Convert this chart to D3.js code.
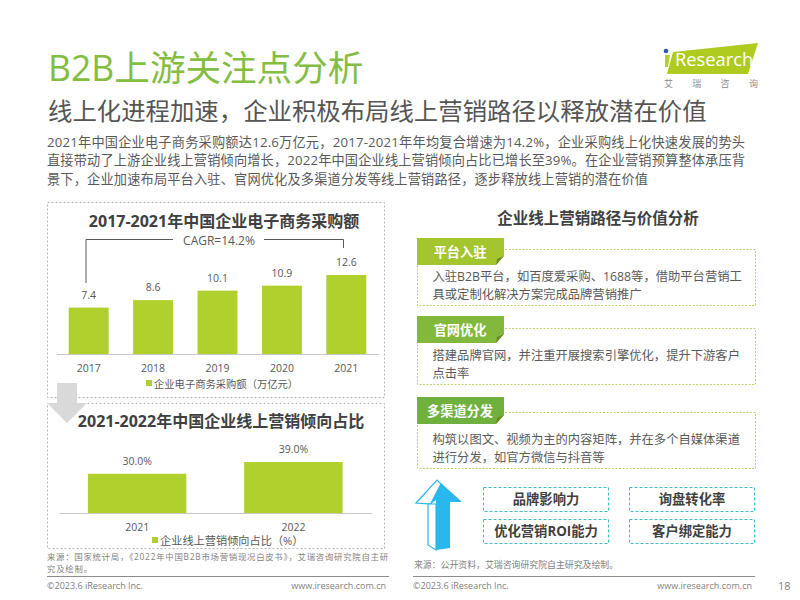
<!DOCTYPE html>
<html>
<head>
<meta charset="utf-8">
<script src="https://cdn.jsdelivr.net/npm/d3@7"></script>
<style>
  html, body { margin: 0; padding: 0; background: #fff; }
  svg text { font-family: "Open Sans", "Noto Sans CJK SC", sans-serif; }
</style>
</head>
<body>
<div id="chart"></div>
<script>
// chart data
var purchaseYears = ["2017", "2018", "2019", "2020", "2021"];
var purchaseValues = [7.4, 8.6, 10.1, 10.9, 12.6];
var shareYears = ["2021", "2022"];
var shareValues = [30.0, 39.0];

// page text
var bodyLines = [
  "2021年中国企业电子商务采购额达12.6万亿元，2017-2021年年均复合增速为14.2%，企业采购线上化快速发展的势头",
  "直接带动了上游企业线上营销倾向增长，2022年中国企业线上营销倾向占比已增长至39%。在企业营销预算整体承压背",
  "景下，企业加速布局平台入驻、官网优化及多渠道分发等线上营销路径，逐步释放线上营销的潜在价值"
];
var bodyWidths = [698, 698, 601];
var routeTabs = ["平台入驻", "官网优化", "多渠道分发"];
var routeLines = [
  ["入驻B2B平台，如百度爱采购、1688等，借助平台营销工", "具或定制化解决方案完成品牌营销推广"],
  ["搭建品牌官网，并注重开展搜索引擎优化，提升下游客户", "点击率"],
  ["构筑以图文、视频为主的内容矩阵，并在多个自媒体渠道", "进行分发，如官方微信与抖音等"]
];
var valueLabels = ["品牌影响力", "询盘转化率", "优化营销ROI能力", "客户绑定能力"];
var sourceLines = ["来源：国家统计局，《2022年中国B2B市场营销现况白皮书》，艾瑞咨询研究院自主研", "究及绘制。"];
var sourceWidths = [341, 45];

var green = "#b0d02e";
var svg = d3.select("#chart").append("svg")
  .attr("width", 800).attr("height", 600)
  .style("display", "block");

function addText(x, y, str, size, color, weight, anchor) {
  return svg.append("text")
    .attr("x", x).attr("y", y)
    .attr("font-size", size)
    .attr("fill", color)
    .attr("font-weight", weight || "normal")
    .attr("text-anchor", anchor || "start")
    .text(str);
}

function dashedBox(x, y, w, h, color, dash) {
  svg.append("rect")
    .attr("x", x).attr("y", y).attr("width", w).attr("height", h)
    .attr("fill", "none").attr("stroke", color)
    .attr("stroke-width", 1).attr("stroke-dasharray", dash);
}

function poly(points, fill) {
  return svg.append("polygon").attr("points", points).attr("fill", fill);
}

// header
addText(48, 81, "B2B上游关注点分析", 35.6, "#84bd42");
addText(48, 120, "线上化进程加速，企业积极布局线上营销路径以释放潜在价值", 24.4, "#555");
bodyLines.forEach(function(line, i) {
  addText(47, 146.5 + i * 18.7, line, 13.2, "#595959")
    .attr("textLength", bodyWidths[i])
    .attr("lengthAdjust", "spacing");
});

// logo
poly("673,52 758,43 748,74 667,74", "#afcb1f");
poly("665,55 670,55 668,67 665,67", "#b6d12a");
svg.append("circle").attr("cx", 666).attr("cy", 51).attr("r", 2.3).attr("fill", "#2f5aa8");
addText(675, 66, "Research", 18.3, "#fff");
["艾", "瑞", "咨", "询"].forEach(function(c, i) {
  addText(664 + i * 28.3, 87, c, 9, "#8c8c8c");
});

// simple bar chart block, both left charts go through this
function barChart(cfg) {
  var x = d3.scaleBand().domain(cfg.cats).range(cfg.xRange)
    .paddingInner(cfg.padding).paddingOuter(cfg.padding / 2);
  var y = d3.scaleLinear().domain([0, cfg.max]).range([cfg.base, cfg.top]);

  svg.append("g").selectAll("rect")
    .data(cfg.values)
    .enter()
    .append("rect")
      .attr("x", function(d, i) { return x(cfg.cats[i]); })
      .attr("y", function(d) { return y(d); })
      .attr("width", x.bandwidth())
      .attr("height", function(d) { return cfg.base - y(d); })
      .attr("fill", green);

  svg.append("g").selectAll("text")
    .data(cfg.values)
    .enter()
    .append("text")
      .attr("x", function(d, i) { return x(cfg.cats[i]) + x.bandwidth() / 2; })
      .attr("y", function(d) { return y(d) - 9; })
      .attr("text-anchor", "middle")
      .attr("font-size", 10.5)
      .attr("fill", "#595959")
      .text(function(d) { return cfg.format(d); });

  var axis = svg.append("g")
    .attr("transform", "translate(0," + cfg.base + ")")
    .call(d3.axisBottom(x).tickSize(0).tickPadding(cfg.tickPad));
  axis.select(".domain").attr("stroke", "#c8c8c8").attr("stroke-width", 1);
  axis.selectAll("text")
    .attr("font-size", 10.5)
    .attr("fill", "#595959")
    .style("font-family", "\"Open Sans\", sans-serif");

  // legend
  svg.append("rect")
    .attr("x", cfg.legendX).attr("y", cfg.legendY - 8)
    .attr("width", 6).attr("height", 6).attr("fill", green);
  addText(cfg.legendX + 8, cfg.legendY, cfg.legend, cfg.legendSize, "#595959");
}

// left panels
dashedBox(47.5, 202.5, 337, 195, "#b5b5b5", "2,2");
dashedBox(47.5, 403.5, 337, 145, "#b5b5b5", "2,2");

// grey arrow between the two charts
poly("57,383 77,383 77,403 87,403 67,423 47,403 57,403", "#d9d9d9");

addText(224, 227, "2017-2021年中国企业电子商务采购额", 16, "#404040", "bold", "middle");
addText(219, 245, "CAGR=14.2%", 12, "#595959", "normal", "middle");
svg.append("path")
  .attr("d", "M86,283V239.5H173M264,239.5H343.5V248")
  .attr("fill", "none").attr("stroke", "#595959").attr("stroke-width", 1);

barChart({
  cats: purchaseYears, values: purchaseValues,
  xRange: [56.5, 378.5], padding: 0.38,
  base: 354, top: 275, max: 12.6,
  format: function(d) { return d.toFixed(1); },
  tickPad: 11,
  legend: "企业电子商务采购额（万亿元）", legendX: 146, legendY: 388, legendSize: 10.3
});

addText(221, 427, "2021-2022年中国企业线上营销倾向占比", 16, "#404040", "bold", "middle");
barChart({
  cats: shareYears, values: shareValues,
  xRange: [59, 371.5], padding: 0.37,
  base: 513, top: 462, max: 39,
  format: function(d) { return d.toFixed(1) + "%"; },
  tickPad: 11,
  legend: "企业线上营销倾向占比（%）", legendX: 152, legendY: 545, legendSize: 11.2
});

// source note, a touch smaller and stretched so the two lines stay clear of each other
sourceLines.forEach(function(line, i) {
  addText(47, 559.5 + i * 12.3, line, 8.4, "#7f7f7f")
    .attr("textLength", sourceWidths[i])
    .attr("lengthAdjust", "spacing");
});

// right panel
addText(598, 224, "企业线上营销路径与价值分析", 15.5, "#404040", "bold", "middle");
var routeTop = [238, 316, 397];
var routeBoxTop = [249, 328, 412];
var routeColors = ["#a3c62f", "#82b93c", "#6fb03f"];
routeTabs.forEach(function(tab, i) {
  var t = routeTop[i];
  dashedBox(417.5, routeBoxTop[i] + 0.5, 338, 56, "#b9d36a", "2,1.5");
  poly("417," + t + " 504," + t + " 504," + (t + 18) + " 496," + (t + 27) + " 417," + (t + 27), routeColors[i]);
  poly("504," + (t + 18) + " 497," + (t + 21) + " 496," + (t + 27), "#6d8a22");
  addText(460, t + 19, tab, 13.2, "#fff", "bold", "middle");
  routeLines[i].forEach(function(line, j) {
    addText(432.5, routeBoxTop[i] + 32 + j * 18.3, line, 12.3, "#595959");
  });
});

// blue arrow, white side facets first then the solid front
poly("416,503 437,480 441,484 431,504", "#fff").attr("stroke", "#2ab7ec").attr("stroke-width", 1.2);
poly("428,504 436,504 436,550 428,545", "#fff").attr("stroke", "#2ab7ec").attr("stroke-width", 1.2);
poly("441,483 462,502 450,502 450,548 436,550 436,500 430,504", "#2ab7ec");

// value boxes
var boxX = [483, 629], boxY = [487, 519];
valueLabels.forEach(function(label, i) {
  var col = i % 2, row = Math.floor(i / 2);
  dashedBox(boxX[col] + 0.5, boxY[row] + 0.5, 125, 24, "#45b8cf", "3,2");
  addText(boxX[col] + 63, boxY[row] + 17, label, 13.3, "#404040", "bold", "middle");
});

addText(414, 568, "来源：公开资料，艾瑞咨询研究院自主研究及绘制。", 8.9, "#7f7f7f");

// footer
svg.append("line").attr("x1", 47).attr("x2", 389).attr("y1", 576.5).attr("y2", 576.5).attr("stroke", "#8c8c8c");
svg.append("line").attr("x1", 413).attr("x2", 755).attr("y1", 576.5).attr("y2", 576.5).attr("stroke", "#8c8c8c");
addText(47, 589, "©2023.6 iResearch Inc.", 9, "#7f7f7f");
addText(386, 589, "www.iresearch.com.cn", 9, "#7f7f7f", "normal", "end");
addText(413, 589, "©2023.6 iResearch Inc.", 9, "#7f7f7f");
addText(752, 589, "www.iresearch.com.cn", 9, "#7f7f7f", "normal", "end");
addText(778, 590, "18", 11, "#7f7f7f");
</script>
</body>
</html>
